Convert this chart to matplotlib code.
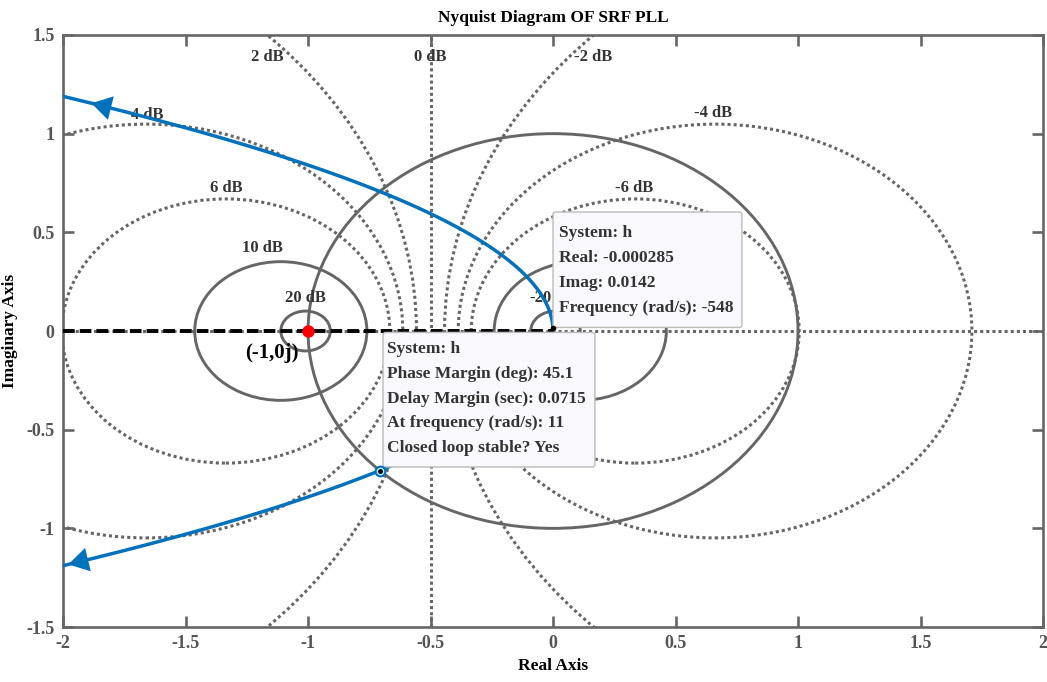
import numpy as np
import matplotlib
matplotlib.use("Agg")
import matplotlib.pyplot as plt
from matplotlib.patches import Circle, FancyBboxPatch

plt.rcParams.update({"font.family": ["Liberation Serif", "DejaVu Serif"],
                     "axes.edgecolor": "#666666", "axes.linewidth": 1.9})

# open-loop system h(s) = num/den, read from the datatips
num = [7.78, 85.6]
den = [1.0, 0.0, 0.0]
W_MAX = 548

# M-circle grid (closed-loop magnitude, dB)
solid_db = [20, 10, -10, -20]
dotted_db = [6, 4, 2, -2, -4, -6]
LABELS = ["2 dB", "0 dB", "-2 dB", "4 dB", "-4 dB", "6 dB", "-6 dB", "10 dB", "20 dB"]
LABEL_X = [-1.167, -0.502, 0.163, -1.657, 0.653, -1.335, 0.331, -1.188, -1.012]
LABEL_Y = [1.389, 1.389, 1.389, 1.095, 1.105, 0.725, 0.725, 0.421, 0.167]

tip_pm = ["System: h", "Phase Margin (deg): 45.1", "Delay Margin (sec): 0.0715",
          "At frequency (rad/s): 11", "Closed loop stable? Yes"]
tip_end = ["System: h", "Real: -0.000285", "Imag: 0.0142", "Frequency (rad/s): -548"]

# frequencies (rad/s) where the direction arrows sit: (tip, tail)
ARROW_W = [(-6.72, -6.92), (6.56, 6.78)]

GRAY = "#666666"
BLUE = "#0072BD"
TXT = "#333333"
DOT = (0, (1, 1))

def h(w):
    s = 1j * w
    return np.polyval(num, s) / np.polyval(den, s)

def m_circle(db):
    M = 10 ** (db / 20)
    return -M**2 / (M**2 - 1), M / abs(M**2 - 1)

fig = plt.figure(figsize=(10.47, 6.82), dpi=100)
ax = fig.add_axes([0.0602, 0.0806, 0.936, 0.8681])

for db in solid_db:
    c, r = m_circle(db)
    ax.add_patch(Circle((c, 0), r, fill=False, ec=GRAY, lw=2.1, zorder=2))
for db in dotted_db:
    c, r = m_circle(db)
    ax.add_patch(Circle((c, 0), r, fill=False, ec=GRAY, lw=2.2, ls=DOT, zorder=2))
ax.add_patch(Circle((0, 0), 1.0, fill=False, ec=GRAY, lw=2.1, zorder=2))
ax.axvline(-0.5, color=GRAY, lw=2.2, ls=DOT, zorder=2)
ax.axhline(0, color=GRAY, lw=2.2, ls=DOT, zorder=2)
ax.plot([-2, 0], [0, 0], color="black", lw=2.8, ls=(0, (3, 1.3)), zorder=3)

for t, x, y in zip(LABELS, LABEL_X, LABEL_Y):
    ax.text(x, y, t, ha="center", va="center", fontsize=12, weight="bold", color=TXT, zorder=4)
# -20 dB label, mostly hidden behind the datatip in the original
ax.text(-0.004, 0.167, "-20", ha="right", va="center", fontsize=12, weight="bold", color=TXT, zorder=4)

# Nyquist curve
w = np.logspace(0, np.log10(W_MAX), 1500)
Hp = h(w)
Hn = h(-w)
ax.plot(Hp.real, Hp.imag, color=BLUE, lw=2.5, zorder=5)
ax.plot(Hn.real, Hn.imag, color=BLUE, lw=2.5, zorder=5)

# direction arrows
for wt, wb in ARROW_W:
    a, b = h(wt), h(wb)
    ax.annotate("", xy=(a.real, a.imag), xytext=(b.real, b.imag), annotation_clip=False,
                arrowprops=dict(arrowstyle="-|>,head_length=0.5,head_width=0.3", color=BLUE, lw=0,
                                mutation_scale=29), zorder=6)

ax.plot(-1, 0, "o", color="red", ms=8, zorder=7)
ax.text(-1.147, -0.11, "(-1,0j)", ha="center", va="center", fontsize=15, weight="bold", color="black", zorder=7)

# datatips
pm = h(11)
end = h(-W_MAX)
ax.plot(pm.real, pm.imag, "o", ms=7, mfc="#cdeefa", mec=BLUE, mew=1.5, zorder=9)
ax.plot(pm.real, pm.imag, "o", ms=2.5, color="black", zorder=10)
ax.plot(end.real, end.imag, "o", ms=3, color="black", zorder=10)

ax.add_patch(FancyBboxPatch((0.0, 0.018), 0.771, 0.585, boxstyle="round,pad=0,rounding_size=0.012",
                            fc="#f8f8fd", ec="#bbbbbb", lw=1, zorder=8))
ax.add_patch(FancyBboxPatch((-0.694, -0.689), 0.865, 0.682, boxstyle="round,pad=0,rounding_size=0.012",
                            fc="#f8f8fd", ec="#bbbbbb", lw=1, zorder=8))
for i, t in enumerate(tip_end):
    ax.text(0.024, 0.497 - i * 0.127, t, ha="left", va="center", fontsize=12.5, weight="bold", color=TXT, zorder=9)
for i, t in enumerate(tip_pm):
    ax.text(-0.678, -0.091 - i * 0.1255, t, ha="left", va="center", fontsize=12.5, weight="bold", color=TXT, zorder=9)

ax.set_xlim(-2, 2)
ax.set_ylim(-1.5, 1.5)
ax.set_xticks(np.arange(-2, 2.01, 0.5))
ax.set_yticks(np.arange(-1.5, 1.51, 0.5))
ax.set_xticklabels(["-2", "-1.5", "-1", "-0.5", "0", "0.5", "1", "1.5", "2"])
ax.set_yticklabels(["-1.5", "-1", "-0.5", "0", "0.5", "1", "1.5"])
ax.tick_params(direction="in", length=8, width=1.9, color=GRAY, labelcolor="#555555",
               labelsize=13, top=True, right=True, pad=6)
for lab in ax.get_xticklabels() + ax.get_yticklabels():
    lab.set_fontweight("bold")
ax.set_title("Nyquist Diagram OF SRF PLL", fontsize=12.5, weight="bold", pad=9)
ax.set_xlabel("Real Axis", fontsize=12.5, weight="bold", labelpad=4)
ax.set_ylabel("Imaginary Axis", fontsize=12.5, weight="bold", labelpad=6)

fig.savefig("out.png", dpi=100)
